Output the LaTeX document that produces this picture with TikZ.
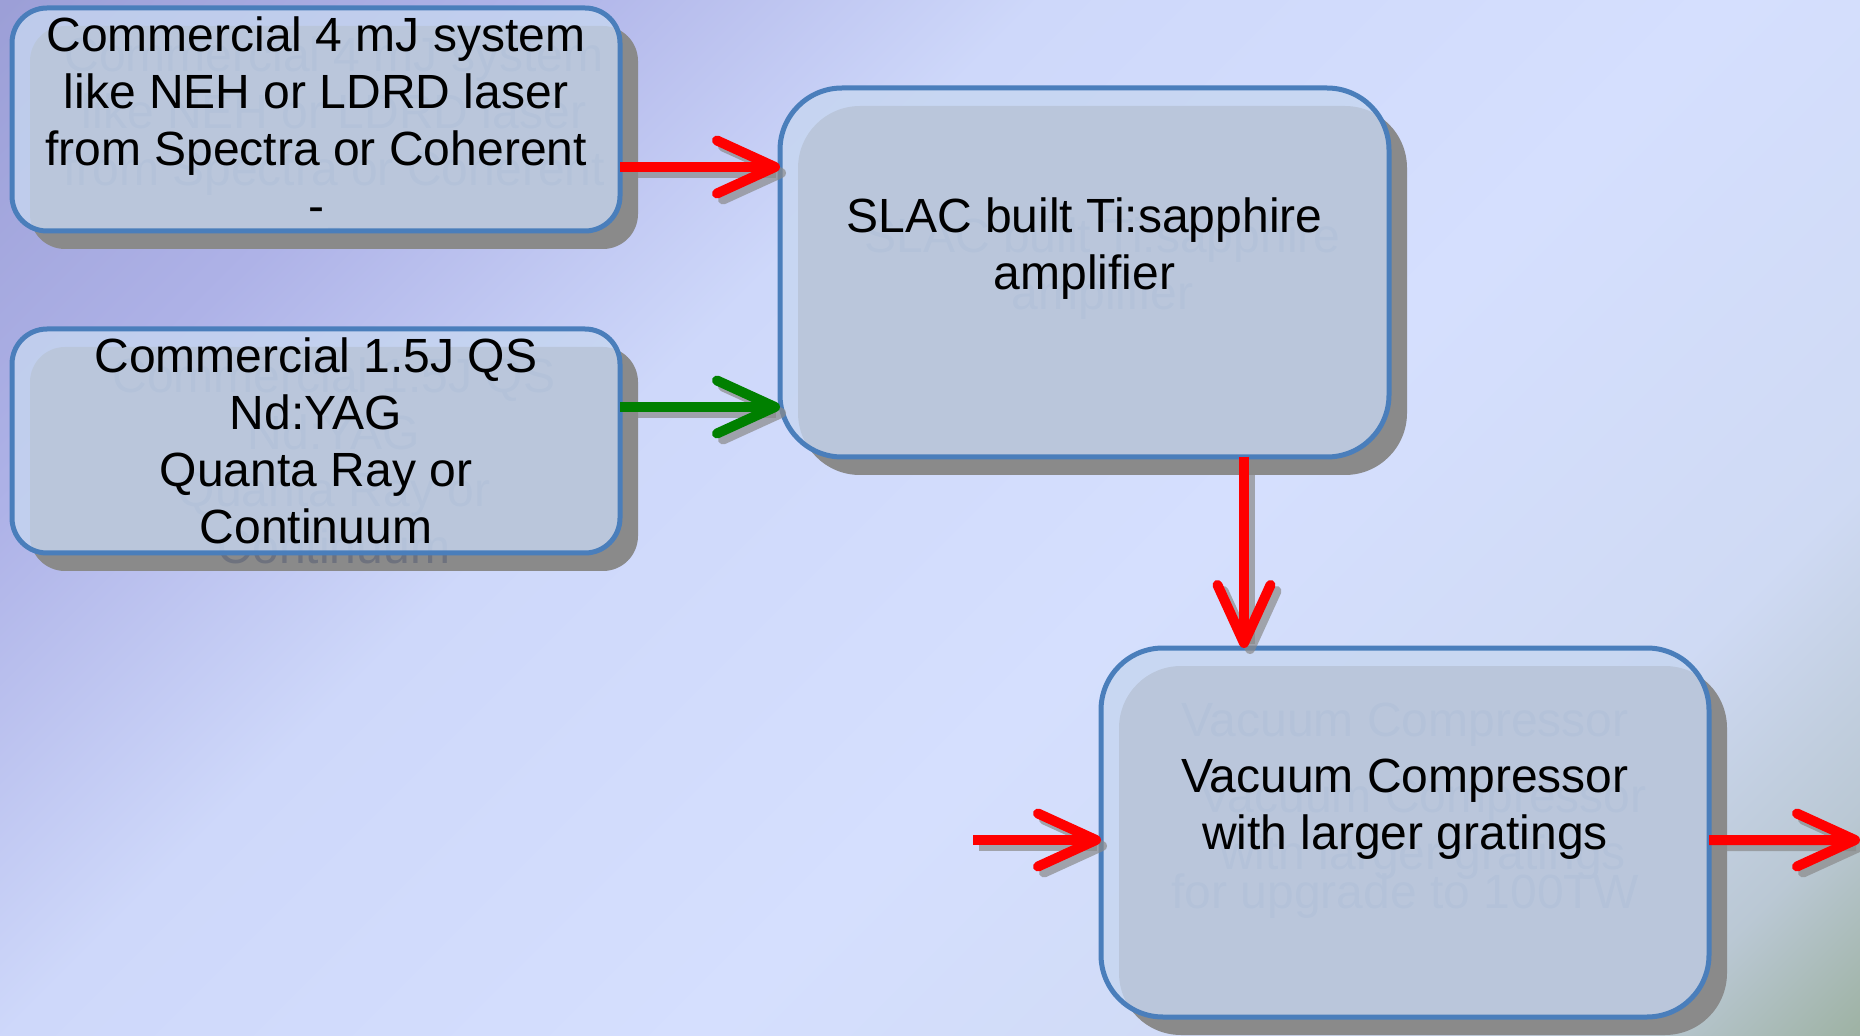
\documentclass[tikz,border=0pt]{standalone}
\usepackage{fontspec}
\setmainfont{Liberation Sans}
\usepackage{tikz}
\usetikzlibrary{arrows.meta,positioning,calc}
\definecolor{stagefill}{RGB}{198,214,240}
\definecolor{stageline}{RGB}{74,126,187}
\definecolor{stageshade}{RGB}{138,138,138}
\definecolor{ghostink}{RGB}{110,114,126}
\definecolor{beamred}{RGB}{255,0,0}
\definecolor{beamgreen}{RGB}{0,128,0}
\definecolor{slideA}{RGB}{155,158,214}
\definecolor{slideB}{RGB}{174,178,231}
\definecolor{slideC}{RGB}{206,216,250}
\definecolor{slideD}{RGB}{213,223,254}
\definecolor{slideE}{RGB}{207,218,244}
\definecolor{slideF}{RGB}{186,200,212}
\definecolor{slideG}{RGB}{150,172,150}
\pgfdeclarehorizontalshading{slide}{100bp}{color(0bp)=(slideA); color(14bp)=(slideA);
  color(27bp)=(slideB); color(40bp)=(slideC); color(57bp)=(slideD); color(72bp)=(slideE);
  color(80bp)=(slideF); color(87bp)=(slideG); color(100bp)=(slideG)}
\pgfdeclarelayer{slidebg}
\pgfdeclarelayer{shadow}
\pgfdeclarelayer{ghost}
\pgfsetlayers{slidebg,shadow,ghost,main}
\newcommand{\stagefont}{\fontsize{13.66}{16.22}\selectfont}
\tikzstyle{stage} = [draw=stageline, line width=0.5mm, fill=stagefill, fill opacity=0.8,
  text opacity=1, align=center, inner sep=0pt, outer sep=0pt, font=\stagefont]
\tikzstyle{stageshadow} = [fill=stageshade]
\tikzstyle{ghosttext} = [text=ghostink, align=center, inner sep=0pt, font=\stagefont]
\tikzstyle{beam} = [line width=1mm, -{Straight Barb[length=5.8mm,width=5.3mm,round]}]
\tikzstyle{beamshadow} = [beam, draw=stageshade, draw opacity=0.7]
\newcommand{\stage}[6]{% #1: name; #2: position; #3: width; #4: height; #5: radius; #6: text
  \node[stage, rounded corners=#5, minimum width=#3, minimum height=#4] (#1) at #2 {#6};
  \begin{pgfonlayer}{shadow}
    \fill[stageshadow, rounded corners=#5] ([shift={(18,18)}]#1.north west)
      rectangle ([shift={(18,18)}]#1.south east);
  \end{pgfonlayer}
  \begin{pgfonlayer}{ghost}
    \node[ghosttext] at ([shift={(18,20)}]#1.center) {#6};
  \end{pgfonlayer}
}
\newcommand{\beamlink}[3]{% #1: colour; #2: src node; #3: dest node
  \draw[beamshadow, transform canvas={shift={(0.6mm,-0.6mm)}}] (#2) -- (#3);
  \draw[beam, draw=#1] (#2) -- (#3);
}

\begin{document}
\begin{tikzpicture}[x=0.1mm, y=-0.1mm]
  \useasboundingbox (0,0) rectangle (1860,1036);
  \begin{pgfonlayer}{slidebg}
    \shade[shading=slide, shading angle=-45] (0,0) rectangle (1860,1036);
  \end{pgfonlayer}
  %
  \stage{front}{(316,119.5)}{60.8mm}{22.3mm}{3.5mm}{Commercial 4 mJ system\\like NEH or LDRD laser\\from Spectra or Coherent\\-}
  \stage{pump}{(316,441)}{60.8mm}{22.4mm}{3.5mm}{Commercial 1.5J QS\\Nd:YAG\\Quanta Ray or\\Continuum}
  \stage{amp}{(1084.5,272.5)}{60.9mm}{36.9mm}{6.2mm}{SLAC built Ti:sapphire\\amplifier\\\mbox{}}
  \stage{compressor}{(1405,832.5)}{60.8mm}{36.9mm}{6.2mm}{Vacuum Compressor\\with larger gratings\\\mbox{}}
  \begin{pgfonlayer}{ghost}
    \node[ghosttext, anchor=base] (oldtop) at (1405,736) {Vacuum Compressor};
    \node[ghosttext, anchor=base] (oldbottom) at (1405,908) {for upgrade to 100TW};
  \end{pgfonlayer}
  %
  \coordinate (s1) at ($(front.east)+(0,47.5)$);
  \coordinate (s2) at ($(pump.east)+(0,-34)$);
  \coordinate (s3) at ($(amp.south)+(159.5,0)$);
  \coordinate (feed) at (973,840);
  \coordinate (s5) at ($(compressor.east)+(0,7.5)$);
  \coordinate (exit) at (1860,840);
  \beamlink{beamred}{s1}{s1 -| amp.west}
  \beamlink{beamgreen}{s2}{s2 -| amp.west}
  \beamlink{beamred}{s3}{s3 |- compressor.north}
  \beamlink{beamred}{feed}{feed -| compressor.west}
  \beamlink{beamred}{s5}{exit}
\end{tikzpicture}
\end{document}
